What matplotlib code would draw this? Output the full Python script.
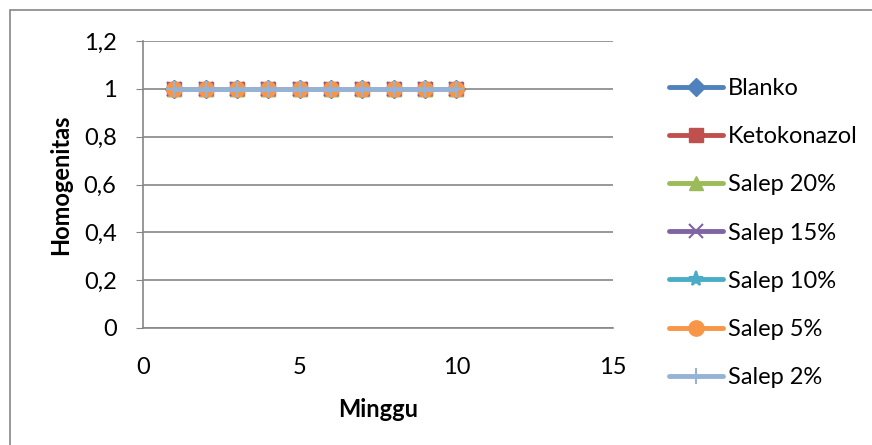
import matplotlib
matplotlib.use("Agg")
import matplotlib.pyplot as plt
from matplotlib.patches import Rectangle
from matplotlib.ticker import FuncFormatter

plt.rcParams['font.family'] = ['Lato', 'DejaVu Sans']

weeks = [1, 2, 3, 4, 5, 6, 7, 8, 9, 10]
series_names = ["Blanko", "Ketokonazol", "Salep 20%", "Salep 15%",
                "Salep 10%", "Salep 5%", "Salep 2%"]
blanko = [1, 1, 1, 1, 1, 1, 1, 1, 1, 1]
ketokonazol = [1, 1, 1, 1, 1, 1, 1, 1, 1, 1]
salep_20 = [1, 1, 1, 1, 1, 1, 1, 1, 1, 1]
salep_15 = [1, 1, 1, 1, 1, 1, 1, 1, 1, 1]
salep_10 = [1, 1, 1, 1, 1, 1, 1, 1, 1, 1]
salep_5 = [1, 1, 1, 1, 1, 1, 1, 1, 1, 1]
salep_2 = [1, 1, 1, 1, 1, 1, 1, 1, 1, 1]
x_ticks = [0, 5, 10, 15]
y_ticks = [0, 0.2, 0.4, 0.6, 0.8, 1.0, 1.2]

values = [blanko, ketokonazol, salep_20, salep_15, salep_10, salep_5, salep_2]
colors = ["#4F81BD", "#C0504D", "#9BBB59", "#8064A2", "#4BACC6", "#F79646", "#95B3D7"]
markers = ["D", "s", "^", "x", "*", "o", "+"]
msizes = [9, 10, 10, 10, 11, 11, 12]

FS = 17

fig = plt.figure(figsize=(8.72, 4.45), dpi=100)
ax = fig.add_axes([143 / 872, 1 - 328 / 445, (613 - 143) / 872, (328 - 41) / 445])

for name, vals, c, m, ms in zip(series_names, values, colors, markers, msizes):
    mew = 1.5 if m in ("x", "+", "*") else 1.0
    ax.plot(weeks, vals, color=c, lw=3.5, marker=m, markersize=ms,
            markerfacecolor=c, markeredgecolor=c, markeredgewidth=mew,
            label=name, solid_capstyle='round')

ax.set_xlim(0, 15)
ax.set_ylim(0, 1.2)
ax.set_xticks(x_ticks)
ax.set_yticks(y_ticks)

def comma_fmt(v, pos):
    s = f"{v:.1f}".rstrip("0").rstrip(".")
    return s.replace(".", ",")

ax.yaxis.set_major_formatter(FuncFormatter(comma_fmt))
ax.xaxis.set_major_formatter(FuncFormatter(comma_fmt))

ax.grid(axis='y', color='#868686', lw=1.2)
ax.set_axisbelow(True)
for s in ("top", "right"):
    ax.spines[s].set_visible(False)
ax.spines['left'].set_color('#868686')
ax.spines['left'].set_linewidth(1.2)
ax.spines['bottom'].set_color('#868686')
ax.spines['bottom'].set_linewidth(1.2)
ax.tick_params(axis='y', length=5, color='#868686', labelsize=FS, pad=14)
ax.tick_params(axis='x', length=0, labelsize=FS, pad=21)

ax.set_xlabel("Minggu", fontsize=FS, fontweight='bold', labelpad=14)
ax.set_ylabel("Homogenitas", fontsize=FS, fontweight='bold', labelpad=8)

leg = ax.legend(loc='center left', bbox_to_anchor=(657 / 872, 1 - 233 / 445),
                bbox_transform=fig.transFigure, frameon=False, fontsize=FS,
                handlelength=2.3, handletextpad=0.2, labelspacing=1.15,
                borderpad=0)

fig.patches.append(Rectangle((10 / 872, -0.1), 1.2, 1.1 - 10 / 445,
                             transform=fig.transFigure, fill=False,
                             edgecolor='#868686', lw=1.2))

fig.savefig("out.png", dpi=100)
